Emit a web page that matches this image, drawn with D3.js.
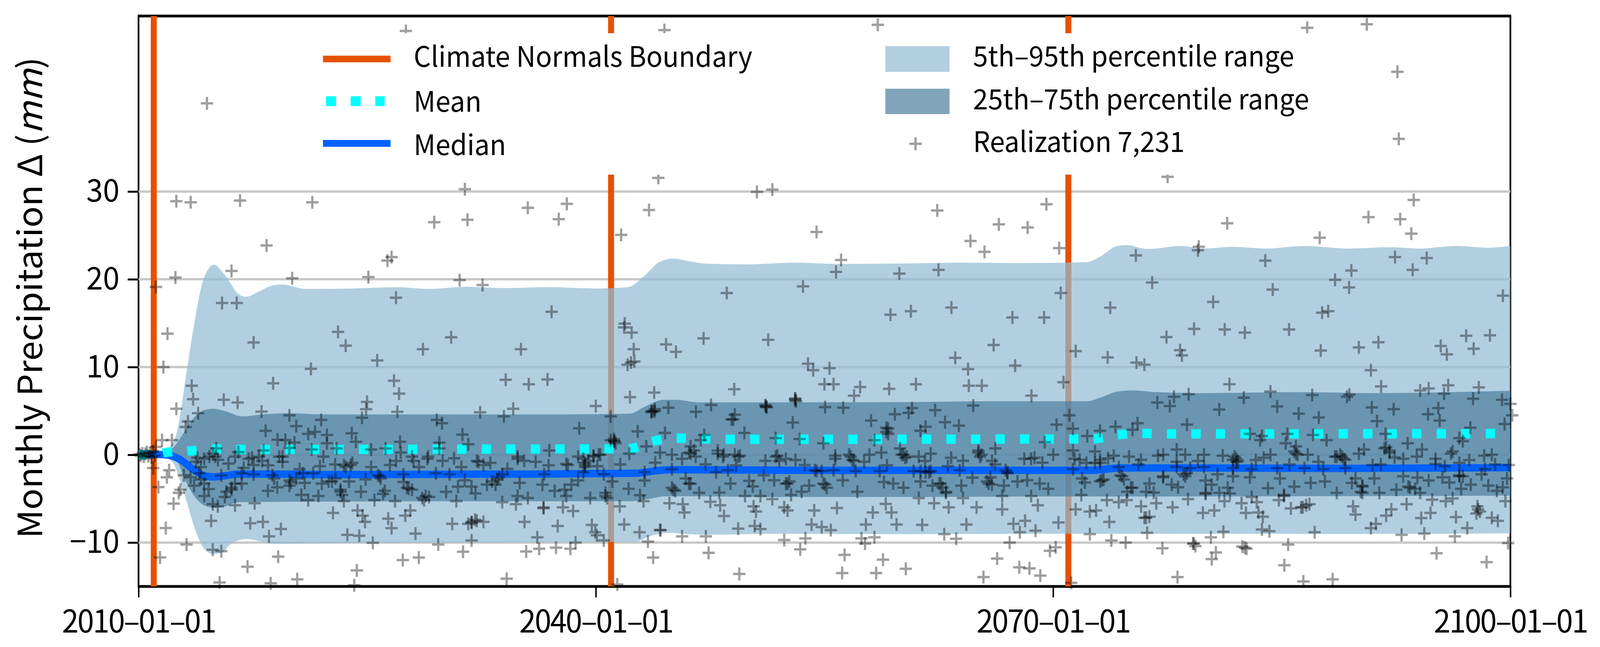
<!DOCTYPE html>
<html>
<head>
<meta charset="utf-8">
<script src="https://cdnjs.cloudflare.com/ajax/libs/d3/7.8.5/d3.min.js"></script>
<style>
  html, body { margin: 0; padding: 0; background: #fff; overflow: hidden; }
  text { font-family: "Noto Sans CJK JP", "Noto Sans", sans-serif; fill: #000; }
</style>
</head>
<body>
<div id="chart"></div>
<script>
"use strict";

var p95 = [[2010,0.05],[2011.3,0.1],[2011.9,0.6],[2012.5,2.5],[2013.2,10],[2013.65,14.9],[2014.3,20.2],[2014.94,21.65],[2015.66,20.5],[2016.55,18.35],[2017.04,18],[2017.9,18.6],[2018.8,19.3],[2019.45,19.4],[2021,18.9],[2024,18.95],[2027,19.1],[2029,18.9],[2031.5,19.15],[2034,19],[2037,19.1],[2040,18.95],[2042.1,19.1],[2043.1,20.26],[2044.2,22],[2045.1,22.36],[2046,22.1],[2047.1,21.8],[2050,21.7],[2053,21.9],[2056,21.75],[2060,21.8],[2064,21.9],[2068,21.85],[2072.2,21.95],[2073.1,22.6],[2074.2,23.8],[2074.8,23.9],[2076.2,23.45],[2078.4,23.8],[2079.8,23.5],[2081.8,23.7],[2084,23.5],[2086.5,23.8],[2089.4,23.5],[2092.1,23.65],[2094,23.5],[2096.5,23.8],[2098.5,23.6],[2100,23.8]];
var p75 = [[2010,0.03],[2011.3,0.05],[2012.2,0.7],[2013,2.6],[2013.65,4.27],[2014.3,5.1],[2014.9,5.25],[2015.7,4.97],[2016.8,4.38],[2018.3,4.63],[2019.9,4.74],[2022,4.6],[2030,4.6],[2036,4.6],[2042.2,4.69],[2043.3,5.56],[2044.4,6.27],[2045.3,6.27],[2046.7,5.98],[2050,5.98],[2060,6],[2066,6.1],[2072.2,6.1],[2073.1,6.5],[2074.2,7.2],[2075.3,7.34],[2076.6,7.16],[2079.8,7.03],[2086.5,7.14],[2091,7.03],[2100,7.3]];
var p25 = [[2010,-0.03],[2011.3,-0.05],[2012.4,-0.45],[2013.1,-3.05],[2013.75,-4.93],[2014.3,-5.75],[2015,-6.05],[2015.7,-5.87],[2016.55,-5.4],[2020,-5.35],[2030,-5.3],[2040,-5.3],[2042.2,-5.3],[2043.4,-5.05],[2044.6,-4.73],[2046,-4.73],[2051,-4.8],[2060,-4.8],[2070,-4.75],[2073,-4.75],[2076,-4.75],[2100,-4.65]];
var p5 = [[2010,-0.05],[2011.3,-0.1],[2012.2,-0.8],[2013,-4.45],[2013.75,-8.7],[2014.3,-10.7],[2014.9,-11.3],[2015.4,-11.2],[2016.1,-10.1],[2017.1,-9.6],[2018.1,-9.9],[2019,-10.15],[2021,-10.1],[2030,-10],[2042.6,-9.93],[2043.5,-9.3],[2044.9,-8.9],[2046,-9.05],[2047.6,-9.1],[2052,-9],[2060,-9.05],[2070,-9],[2080,-9],[2090,-9.02],[2100,-8.95]];
var medianLine = [[2010,0.05],[2011.2,0.05],[2012,-0.05],[2012.75,-0.57],[2013.65,-1.74],[2014.3,-2.38],[2014.9,-2.52],[2015.7,-2.38],[2016.55,-2.2],[2019,-2.2],[2023,-2.26],[2033,-2.2],[2036,-2.2],[2042.6,-2.1],[2044.4,-1.74],[2045.3,-1.7],[2054,-1.77],[2071,-1.77],[2072.6,-1.77],[2074.4,-1.5],[2080,-1.5],[2089,-1.55],[2100,-1.46]];
var meanLine = [[2010,0],[2011.2,0.05],[2011.9,0.3],[2013.4,0.45],[2015,0.68],[2016.5,0.62],[2023,0.62],[2034,0.66],[2040.6,0.68],[2042.3,0.73],[2043.8,1.56],[2045.3,1.9],[2048.5,1.77],[2070,1.8],[2072.6,1.83],[2074.2,2.27],[2075.8,2.45],[2077.4,2.38],[2100,2.42]];

var boundaryYears = [2011, 2041, 2071];
var xTickYears = [2010, 2040, 2070, 2100];
var xTickLabels = ["2010\u201301\u201301", "2040\u201301\u201301", "2070\u201301\u201301", "2100\u201301\u201301"];
var yTicks = [-10, 0, 10, 20, 30];

// one "+" per month in the picture, realization 7,231
var realization = [
// first year, all near zero
[2010.05,0.05],[2010.15,-0.1],[2010.25,0.15],[2010.35,-0.2],[2010.45,0.1],[2010.55,0.3],[2010.65,-0.15],[2010.75,0.2],[2010.85,-0.3],[2010.95,0.4],[2011.05,-0.1],[2011.15,0.9],
// top left
[2027.54,48.3],[2014.49,40.05],[2012.48,28.9],[2013.42,28.78],[2016.66,28.97],[2021.4,28.78],[2031.41,30.27],[2035.54,28.14],[2029.4,26.5],[2031.58,26.78],[2018.4,23.85],[2026.6,22.53],[2026.33,22.13],[2016.1,20.95],[2012.42,20.2],[2020.08,20.13],[2025.08,20.25],[2031.07,19.9],[2032.57,19.35],[2011.14,19.12],[2026.89,17.9],[2015.48,17.3],[2016.44,17.3],
// top middle
[2044.5,48.4],[2058.5,49.0],[2044.1,31.56],[2050.57,29.96],[2051.58,30.22],[2038.1,28.6],[2037.57,26.85],[2043.49,27.9],[2041.66,25.06],[2054.48,25.39],[2062.4,27.84],[2069.56,28.55],[2066.44,26.26],[2068.33,25.9],[2064.58,24.37],[2065.5,23.12],[2070.4,23.55],[2056.09,22.2],[2055.76,20.84],[2059.91,20.65],[2062.48,21.07],[2053.59,19.19],[2048.59,18.43],[2070.5,18.43],[2037.1,16.3],[2059.33,15.96],[2060.67,16.36],[2063.33,16.78],[2067.33,15.65],[2069.41,15.65],[2041.9,14.95],
// top right
[2086.67,48.65],[2090.58,49.07],[2092.59,43.65],[2092.68,36.0],[2077.51,31.68],[2093.66,29.04],[2090.69,27.08],[2092.77,26.85],[2093.5,25.2],[2081.42,26.38],[2087.49,24.73],[2075.43,22.72],[2079.56,23.71],[2079.5,23.31],[2083.92,22.13],[2092.43,22.53],[2094.51,22.42],[2093.59,21.07],[2089.57,21.0],[2088.5,19.94],[2076.5,19.64],[2089.42,19.07],[2084.41,18.83],[2099.51,18.13],[2080.5,17.42],[2073.75,16.76],[2087.65,16.2],[2088.05,16.36],
// left third, above the median
[2011.9,13.81],[2023.09,14.0],[2023.59,12.44],[2030.51,13.39],[2017.55,12.8],[2028.66,12.04],[2035.09,12.04],[2025.66,10.75],[2011.63,10.0],[2021.31,9.8],[2013.49,7.87],[2018.83,8.15],[2026.76,8.44],[2034.09,8.55],[2035.6,8.04],[2027.09,6.97],[2013.58,6.34],[2015.59,6.27],[2016.5,5.96],[2024.99,6.03],[2012.48,5.25],[2024.93,5.2],[2034.58,5.25],[2013.91,4.74],[2018.07,4.92],[2026.98,4.9],[2032.41,4.85],[2019.9,4.5],[2024.66,4.22],[2033.97,4.38],[2021.98,3.98],[2029.57,3.98],[2029.91,3.6],[2013.24,3.8],[2013.09,3.16],[2020.35,3.27],[2018.34,2.73],[2021.58,2.62],[2021.13,2.38],[2023.99,2.45],[2022.36,2.26],[2031.25,2.31],[2011.54,1.67],[2012.19,1.67],[2027.16,1.48],[2019.12,1.72],[2024.26,1.48],[2019.63,1.67],[2020.23,1.39],[2029.73,1.39],[2022.36,1.32],
[2015.1,0.73],[2016.55,0.3],[2018.2,0.49],[2019.9,0.78],[2021.35,0.61],[2026.2,0.73],[2023,0.73],[2025.26,0.61],[2027.2,0.26],[2031.63,1.2],[2029.73,0.73],[2013.87,-0.33],[2015.03,-0.21],[2016.33,-0.21],[2017.44,-0.33],[2018.11,-0.69],[2019.23,-0.21],[2019.45,-0.8],[2022.13,-0.21],[2023.92,-1.16],[2023.47,-1.16],[2025.26,-1.4],[2026.49,-1.16],[2028.05,-0.69],[2029,-0.21],[2029.95,-0.69],[2031.18,-1.4],[2032.3,-0.8],[2033.08,-0.92],[2034.87,-0.21],[2035.3,-0.69],
// left third, below the median
[2010.96,-1.51],[2012.01,-1.75],[2011.86,-2.57],[2011.3,-3.68],[2012.75,-3.98],[2012.64,-4.34],[2012.3,-5.56],[2012.97,-2.33],[2013.42,-2.57],[2013.98,-2.1],[2014.31,-3.28],[2013.64,-3.51],[2014.31,-4.69],[2014.87,-5.63],[2015.2,-5.87],[2015.66,-4.81],[2016.1,-3.98],[2016.33,-5.75],[2016.77,-3.28],[2017.62,-5.52],[2018.49,-4.1],[2018.9,-2.69],[2020.01,-3.16],[2019.9,-3.51],[2020.68,-4.57],[2020.57,-1.63],[2021.46,-2.1],[2021.8,-4.69],[2021.13,-5.16],[2022.02,-3.28],[2022.69,-3.04],[2023.25,-4.22],[2023.47,-5.28],[2023.81,-3.04],[2024.59,-4.22],[2025.48,-5.16],[2025.82,-2.45],[2026.16,-4.1],[2026.83,-5.28],[2027.72,-3.87],[2028.61,-4.93],[2029.06,-4.81],[2030.18,-4.22],[2030.85,-5.28],[2030.96,-3.63],[2031.85,-3.63],[2032.86,-3.39],[2033.53,-2.81],[2033.86,-5.4],[2034.76,-5.63],[2034.87,-4.69],[2035.54,-4.93],
[2015.43,-2.34],[2016.77,-2.1],[2017.55,-2.22],[2018.78,-2.33],[2020.79,-2.1],[2027.38,-2.22],[2029.51,-2.1],[2030.4,-2.22],[2033.86,-2.22],
[2022.76,-6.62],[2024.37,-6.34],[2024.7,-6.93],[2027.83,-6.34],[2027.5,-6.93],[2024.86,-7.64],[2026.38,-7.28],[2026.6,-8.35],[2014.76,-7.52],[2017.33,-7.8],[2018.16,-7.64],[2019.34,-8.46],[2018.56,-9.29],[2023.7,-9.12],[2024.48,-9.22],[2025.37,-10.04],[2028.17,-8.98],[2030.58,-7.87],[2031.85,-7.64],[2032.19,-7.52],[2032.63,-7.64],[2031.63,-7.87],[2031.85,-9.76],[2029.66,-10.23],[2035.32,-7.64],[2031.29,-11.05],[2035.43,-11.01],[2011.79,-8.34],[2013.15,-10.23],[2014.87,-10.82],[2015.43,-10.98],[2011.41,-11.69],[2019.16,-11.6],[2017.15,-12.75],[2027.34,-12.0],[2028.39,-11.71],[2024.32,-13.18],[2015.32,-14.54],[2018.67,-14.64],[2020.41,-14.19],[2024.15,-14.87],[2034.15,-14.12],
// left third, dark clusters
[2014.31,-0.45],[2014.65,-0.21],[2015.21,-0.57],[2014.87,0.14],[2013.76,-0.8],[2014.09,-1.39],[2014.09,-2.81],[2016.1,-3.75],[2015.77,-4.22],[2016.33,-3.28],[2017.22,-0.45],[2017.89,-0.21],[2017.55,-1.16],[2019.45,-0.21],[2019.9,-2.92],[2020.35,-2.69],[2022.47,-3.04],[2022.92,-2.69],[2023.25,-3.98],[2023.36,-4.57],[2024.03,-0.92],[2023.59,-1.39],[2025.71,-2.33],[2025.89,-2.69],[2026.04,-4.46],[2027.61,-3.75],[2027.94,-3.98],[2028.84,-4.69],[2028.73,-5.16],[2027.94,-0.21],[2028.95,-0.45],[2032.19,-0.69],[2032.63,-1.16],[2033.19,-3.04],[2033.42,-3.39],[2033.64,-2.57],[2034.87,-0.45],[2031.85,-7.75],[2032.08,-7.4],
[2014.6,-3.9],[2015.9,-1.0],[2016.9,-1.5],[2018.5,-1.2],[2019.1,-3.7],[2020.9,-3.2],[2021.9,-1.3],[2022.9,-1.1],[2024.9,-2.8],[2026.9,-0.7],[2027.4,-3.1],[2028.4,-1.4],[2030.7,-0.4],[2031.4,-2.9],[2032.1,-4.4],[2034.2,-1.6],[2035,-3.2],
// middle third, above the median
[2041.86,14.52],[2042.35,13.93],[2042.49,12.04],[2044.61,12.58],[2045.26,11.74],[2047.07,13.27],[2051.31,13.1],[2066.1,12.51],[2063.58,11.05],[2064.42,9.76],[2067.51,10.16],[2053.92,10.39],[2054.26,9.64],[2055.33,9.87],[2042.53,10.63],[2042.31,10.51],[2042.08,10.27],[2055,8.04],[2055.6,8.04],[2057.34,7.73],[2056.94,6.74],[2059.24,7.52],[2061,8.04],[2064.47,7.87],[2065.32,7.87],[2070.68,8.27],[2068.58,6.74],[2049.08,7.47],[2036.83,8.58],[2042.24,6.57],[2043.83,7.09],[2040.0,5.56],[2053.08,6.34],[2053.08,6.2],[2051.13,5.56],[2051.2,5.45],[2047.56,5.68],[2044.76,5.37],[2043.76,4.97],[2043.87,4.97],[2043.65,4.97],[2055.04,5.44],[2056.23,5.37],[2064.76,5.61],[2062.26,5.09],[2060.74,5.32],[2060.52,4.78],[2059.62,4.62],[2046.57,4.9],[2049.12,4.57],[2048.9,4.03],[2040.97,4.38],[2052.92,3.68],[2058.06,3.91],[2059.06,3.09],[2062.91,3.72],[2063.82,3.32],[2061.63,3.2],[2061.3,2.73],[2070.23,3.44],[2038.91,3.02],[2042.75,2.66],[2044.54,2.5],[2049.75,2.5],[2047.11,2.26],[2059.18,2.38],
[2041.23,1.55],[2041.19,1.8],[2040.97,1.67],[2046.89,1.67],[2051.8,1.91],[2053.37,1.79],[2054.93,1.32],[2058.28,1.67],[2059.96,0.73],[2046.22,0.96],[2048,0.49],[2043.31,0.96],[2036.95,0.49],[2042.2,0.14],[2066.21,0.73],[2065.1,0.49],[2069.45,1.44],[2061.97,0.14],
[2039.29,-0.92],[2038.84,-0.21],[2040.19,0.02],[2039.85,-0.21],[2038.17,-1.16],[2039.29,-1.39],[2044.21,0.26],[2044.99,0.02],[2045.66,-0.45],[2046.22,0.14],[2046.55,-0.21],[2048.4,0.02],[2049.12,0.02],[2049.46,-0.1],[2051.13,-0.69],[2051.91,-0.1],[2052.47,-0.45],[2053.7,-1.16],[2055.71,-0.1],[2056.61,0.02],[2056.94,-0.69],[2057.95,0.02],[2058.73,0.26],[2060.18,0.02],[2060.4,-0.21],[2061.19,-0.21],[2063.31,-0.33],[2064.09,-0.69],[2065.3,0.02],[2065.99,-0.69],[2068.11,-0.45],[2068.78,-0.33],[2070.01,0.02],
[2036.61,-2.22],[2039.18,-1.98],[2040.52,-2.22],[2043.2,-1.98],[2044.99,-1.63],[2047.89,-1.98],[2048.67,-1.75],[2051.02,-2.33],[2054.48,-1.86],[2055.6,-1.75],[2057.05,-1.86],[2058.62,-1.86],[2060.85,-1.86],[2061.86,-1.98],[2063.87,-1.75],[2067,-1.98],
// middle third, below the median
[2036.5,-3.4],[2037.95,-3.98],[2038.06,-4.69],[2039.63,-4.93],[2040.63,-4.34],[2040.74,-4.93],[2041.08,-3.04],[2038.84,-2.92],[2042.15,-3.87],[2043.2,-2.92],[2045.1,-3.98],[2046.22,-3.28],[2046.78,-4.34],[2048.83,-3.28],[2050.06,-2.97],[2049.79,-4.69],[2050.8,-4.69],[2051.58,-5.05],[2052.58,-3.28],[2052.81,-4.57],[2053.99,-3.51],[2054.93,-3.28],[2055.15,-3.75],[2057.16,-4.22],[2059.51,-3.28],[2060.18,-3.75],[2061.3,-3.04],[2062.08,-3.51],[2062.64,-3.28],[2062.97,-4.22],[2061.19,-4.93],[2063.98,-3.51],[2064.09,-4.93],[2065.77,-3.28],[2066.77,-3.51],[2067.66,-3.04],[2069.12,-3.28],[2069.68,-3.87],[2068.56,-4.69],[2066.66,-4.69],[2065.88,-2.57],
[2036.57,-5.99],[2037.84,-5.99],[2038.51,-6.41],[2041.57,-5.87],[2043.13,-5.28],[2044.83,-5.52],[2045.7,-5.63],[2045.81,-6.58],[2047.51,-5.35],[2048.16,-5.75],[2048.41,-6.98],[2050.35,-5.87],[2050.51,-6.46],[2052.36,-5.99],[2052.58,-6.34],[2054.33,-6.34],[2055.82,-6.06],[2058.17,-6.58],[2059.02,-5.59],[2059.4,-6.58],[2062.19,-5.52],[2063.15,-5.99],[2064.98,-5.99],[2066.66,-6.22],[2069,-5.75],
[2037.5,-8.11],[2039.74,-7.99],[2039.96,-8.82],[2040.07,-9.17],[2040.52,-9.76],[2036.16,-9.4],[2041.86,-7.94],[2042.87,-8.82],[2044.25,-8.58],[2049.34,-8.41],[2050.42,-8.11],[2050.8,-8.46],[2054.15,-7.94],[2054.82,-8.23],[2055.42,-8.58],[2057.72,-7.94],[2059.73,-7.94],[2061.41,-7.99],[2064.31,-7.94],[2067.4,-7.87],[2068.16,-7.52],[2067.82,-8.82],[2068.85,-8.65],[2070.35,-7.71],
[2036.28,-10.7],[2037.39,-10.58],[2038.33,-10.7],[2038.67,-10],[2043.42,-9.88],[2043.76,-11.71],[2045.66,-9.29],[2047.22,-9.29],[2047.4,-11.17],[2049.41,-13.58],[2052.36,-9.71],[2053.75,-9.52],[2053.41,-10.77],[2056.32,-11.41],[2057.43,-9.52],[2058.28,-9.4],[2057.66,-10.11],[2056.16,-13.48],[2058.84,-11.95],[2058.39,-13.48],[2060.34,-12.99],[2062.86,-9.05],[2063.64,-9.57],[2067.15,-10],[2066.33,-11.83],[2065.43,-13.93],[2067.78,-12.82],[2068.45,-12.94],[2069.16,-13.77],[2069.79,-10.94],[2070.17,-10.54],[2041.41,-14.78],
// middle third, dark clusters
[2036.05,-0.8],[2038.06,-1.04],[2039.18,-0.45],[2039.29,-1.16],[2039.51,-0.69],[2039.85,-0.1],[2040.3,0.02],[2041.19,1.55],[2041.3,1.32],[2036.57,-6.1],[2040.63,-4.69],[2043.87,5.2],[2043.65,4.85],[2051.13,5.68],[2051.2,5.44],[2053.08,6.43],[2053.14,6.1],[2049.01,4.03],[2059.06,2.62],[2059.18,2.97],[2046.11,0.26],[2046.44,0.49],[2048,0.14],[2048.34,-0.21],[2049.34,-0.21],[2051.8,-0.21],[2052.03,-0.69],[2055.71,-0.45],[2056.72,-0.21],[2056.83,-0.57],[2060.07,0.02],[2060.29,-0.33],[2065.1,0.26],[2065.21,-0.21],[2068.56,-0.45],[2045.21,-4.1],[2044.99,-3.75],[2046.11,-3.28],[2052.47,-3.28],[2052.7,-3.04],[2054.37,-1.75],[2054.82,-1.86],[2055.04,-3.39],[2061.3,-1.86],[2061.63,-1.98],[2061.97,-1.86],[2062.53,-3.28],[2062.75,-3.75],[2062.97,-4.34],[2065.65,-3.04],[2065.99,-3.39],[2067,-2.1],[2066.88,-1.75],[2044.21,-8.58],
[2036.9,-1.2],[2037.3,-4.1],[2038.4,-3.4],[2040.1,-1.3],[2041.6,-1.1],[2042.9,-4.6],[2043.9,-0.9],[2045.9,-2.7],[2047.2,-1.1],[2048.1,-4.3],[2049.2,-1.2],[2050.3,-3.6],[2051.7,-2.9],[2053.1,-0.6],[2053.5,-4.2],[2056.2,-2.9],[2057.6,-0.8],[2058.9,-3.1],[2059.1,-1.2],[2061.6,-0.7],[2063.1,-1.3],[2064.7,-2.6],[2066.2,-1.1],[2068.3,-2.9],[2069.3,-0.9],
// right third, above the median
[2079.25,14.35],[2081.26,14.28],[2082.58,13.93],[2085.48,14.28],[2077.44,13.41],[2097.1,13.57],[2098.66,13.62],[2078.33,11.92],[2078.45,11.33],[2071.48,11.81],[2073.58,11.1],[2087.56,11.88],[2090.06,12.23],[2091.34,12.82],[2095.43,12.4],[2095.83,11.45],[2097.59,12.09],[2075.47,10.51],[2075.99,10.27],[2090.85,9.64],[2081.57,8.04],[2091.52,7.8],[2094.08,7.33],[2094.64,7.56],[2095.92,7.92],[2097.93,7.68],[2084.26,7.21],[2078.89,6.9],[2077.93,6.62],[2076.84,5.96],[2077.66,5.56],[2082.51,6.5],[2087,6.81],[2089.44,6.86],[2089.28,6.62],[2095.65,6.97],[2097.55,6.39],[2099.45,6.27],[2100.0,5.8],[2090.91,5.4],[2092.34,5.2],[2095.27,5.32],[2084.7,5.51],[2080.9,5.16],[2086.11,4.69],[2087.43,4.26],[2094.6,4.62],[2095.36,3.91],[2100.12,4.5],[2091.25,3.84],[2071.07,4.5],[2075.54,3.6],[2078.78,3.44],[2099.62,3.51],[2097.37,3.09],[2074.09,3.2],[2075.21,2.85],[2073.08,2.73],[2071.3,2.97],
[2072.24,2.14],[2083.7,2.14],[2082.91,2.38],[2085.37,2.38],[2087.05,2.26],[2091.81,2.38],[2087.94,1.67],[2096.65,1.91],[2085.26,1.32],[2096.88,1.55],[2083.58,1.67],[2093.26,1.32],[2085.93,0.96],[2090.4,0.61],[2094.2,0.61],[2096.21,0.38],[2091.74,0.73],[2092.07,0.26],[2078.11,0.61],
[2071.3,0.49],[2072.75,0.38],[2073.98,-0.1],[2074.98,-0.21],[2075.77,-0.57],[2076.88,-0.1],[2077.22,0.02],[2078.67,0.02],[2079.9,0.02],[2081.13,-0.1],[2082.02,-0.45],[2082.02,-0.8],[2083.81,-0.33],[2084.26,0.02],[2085.93,0.14],[2086.71,0.02],[2088.5,-0.21],[2088.95,-0.21],[2089.17,-0.57],[2090.06,0.14],[2092.97,-0.45],[2093.86,-0.21],[2095.09,-0.45],[2096.1,0.14],[2098.28,-0.1],[2098.78,0.02],[2071.74,-0.57],[2072.19,-0.92],[2073.08,-0.92],[2078.11,-0.8],
[2071.3,-1.63],[2074.31,-1.39],[2078.11,-1.39],[2079,-1.51],[2079.9,-1.39],[2081.8,-1.51],[2083.03,-1.63],[2084.7,-1.51],[2086.49,-1.51],[2087.72,-1.63],[2089.17,-1.51],[2090.96,-1.16],[2095.09,-1.04],[2096.65,-0.92],[2098.33,-1.63],[2099.89,-1.16],
// right third, below the median
[2073.2,-2.92],[2074.54,-2.45],[2077.22,-2.45],[2078.67,-2.45],[2080,-2.92],[2080.79,-2.22],[2081.8,-2.45],[2082.91,-2.57],[2084.88,-2.69],[2087.83,-3.04],[2089.84,-2.69],[2091.07,-2.69],[2092.97,-2.45],[2094.64,-2.92],[2095.54,-2.57],[2096.65,-2.45],[2098.11,-2.22],[2099.78,-2.69],
[2072.08,-3.16],[2075.21,-3.75],[2076.32,-3.28],[2077.78,-3.39],[2081.46,-3.75],[2085.82,-3.63],[2090.29,-3.51],[2093.41,-3.75],[2096,-3.16],[2096.77,-3.87],[2098.55,-3.51],[2099.11,-4.1],[2071.85,-4.57],[2074.87,-4.22],[2076.1,-4.22],[2080,-4.46],[2080.9,-4.34],[2085.15,-4.69],[2088.61,-4.34],[2090.29,-4.34],[2091.4,-4.34],[2092.52,-3.98],[2094.08,-4.34],
[2073.53,-5.16],[2074.31,-5.4],[2074.83,-5.16],[2076.77,-5.52],[2078.85,-5.05],[2081.24,-5.28],[2082.36,-5.52],[2083.03,-4.81],[2083.36,-5.4],[2084.81,-5.16],[2086.82,-5.63],[2089.68,-5.87],[2093.19,-5.63],[2094.87,-5.12],[2095.76,-5.28],[2096.21,-4.97],[2099.67,-5.28],
[2071.48,-6.22],[2072.41,-6.46],[2072.82,-6.34],[2075.77,-5.87],[2077.84,-5.99],[2079.83,-6.62],[2080.57,-6.34],[2082.65,-6.62],[2083.47,-6.58],[2085.6,-6.11],[2086.38,-5.99],[2089.84,-6.81],[2092.19,-6.22],[2091.85,-6.93],[2094.76,-6.62],[2094.15,-7.21],[2097.84,-5.87],[2097.77,-6.69],[2096.43,-7.1],[2098.78,-7.17],[2099.18,-7.52],[2075.99,-7.17],[2076.32,-7.05],[2083.76,-7.05],[2073.69,-7.64],[2091.18,-7.87],[2090.85,-8.35],[2097.17,-8.35],[2083.7,-8.51],[2084.19,-8.7],[2072.41,-9.05],[2076.17,-8.89],[2081.17,-8.77],[2087.16,-8.82],
[2073.82,-9.76],[2074.76,-10],[2080.35,-9.4],[2079.18,-10.11],[2079.34,-10.4],[2077.17,-10.65],[2080.68,-11.13],[2080.41,-11.88],[2082.42,-10.46],[2082.69,-10.7],[2085.42,-10.23],[2092.86,-9.12],[2094.35,-8.98],[2096.36,-9.29],[2099.85,-10.06],[2095.16,-11.22],[2098.44,-12.23],[2085.17,-12.59],[2078.16,-13.93],[2086.42,-14.43],[2088.34,-14.19],[2071.19,-14.59],
// right third, dark clusters
[2081.91,-0.21],[2082.13,-0.69],[2081.8,-0.57],[2088.83,0],[2089.06,-0.45],[2088.61,-0.21],[2091.85,0.85],[2092.07,0.49],[2085.82,0.38],[2086.04,0.02],[2074.42,-2.34],[2074.65,-2.81],[2073.08,-3.04],[2073.31,-2.81],[2075.1,-3.75],[2077.22,-2.57],[2078.56,-2.22],[2090.29,-3.63],[2090.18,-4.22],[2093.3,-3.63],[2093.75,-3.87],[2085.15,-4.57],[2096.65,-2.33],[2096.88,-2.45],[2097.88,-6.22],[2098,-6.46],[2076.1,-7.17],[2079.23,-10.11],[2082.58,-10.58],[2086.6,-5.75],[2086.27,-5.99],[2080.01,-4.34],[2071.41,-0.45],[2072.75,-0.92],[2073.08,-0.57],[2078.78,-2.1],
[2071.9,-2.7],[2073.6,-0.4],[2075.6,-1.1],[2076.6,-4.3],[2078.2,-3.7],[2079.5,-0.7],[2080.4,-3.4],[2081.6,-4.4],[2083.3,-0.6],[2084.1,-3.8],[2085.5,-1.1],[2086.9,-3.2],[2087.4,-0.8],[2089.6,-3.2],[2091.5,-1.1],[2092.4,-0.3],[2093.9,-2.6],[2095.7,-1.3],[2097.3,-0.6],[2097.4,-3.4],[2099,-1.1],[2099.5,-3.7]
];

// legend rows: left column lines, right column patches
var legendLines = ["Climate Normals Boundary", "Mean", "Median"];
var legendPatches = ["5th\u201395th percentile range", "25th\u201375th percentile range", "Realization 7,231"];

// colours
var orange = "#e65100", cyan = "#00ffff", blue = "#0061ff";
var lightFill = "#91bad4", darkFill = "#4c7e9e";

// == BOILERPLATE ==
// the window can be narrower than asked, the viewBox keeps the whole figure in it
var margin = { top: 41, left: 371 },
    width = 3674,
    height = 1460;

var svg = d3.select("#chart")
            .append("svg")
            .attr("viewBox", "0 0 4285 1656")
            .attr("preserveAspectRatio", "none")
            .style("width", "100vw")
            .style("height", "100vh")
            .style("display", "block");

var g = svg.append("g")
           .attr("transform", "translate(" + margin.left + "," + margin.top + ")");

var x = d3.scaleLinear().domain([2010, 2100]).range([0, width]);
var y = d3.scaleLinear().domain([50, -15]).range([0, height]);

// frame first, the bands cover it
g.append("line").attr("x1", -2).attr("x2", width + 2).attr("y1", 0).attr("y2", 0).attr("stroke", "#000").attr("stroke-width", 7);
g.append("line").attr("x1", -2).attr("x2", width + 2).attr("y1", height).attr("y2", height).attr("stroke", "#000").attr("stroke-width", 7);
g.append("line").attr("x1", 0).attr("x2", 0).attr("y1", 0).attr("y2", height).attr("stroke", "#000").attr("stroke-width", 4.5);
g.append("line").attr("x1", width).attr("x2", width).attr("y1", 0).attr("y2", height).attr("stroke", "#000").attr("stroke-width", 4.5);

// axes
var xAxis = d3.axisBottom(x)
  .tickValues(xTickYears)
  .tickSize(28)
  .tickPadding(33)
  .tickFormat(function(d, i) { return xTickLabels[i]; });
var yAxis = d3.axisLeft(y)
  .tickValues(yTicks)
  .tickSize(29)
  .tickPadding(22)
  .tickFormat(function(d) { return d < 0 ? "\u2212" + Math.abs(d) : d; });

var gx = g.append("g").attr("transform", "translate(0," + height + ")").call(xAxis);
var gy = g.append("g").call(yAxis);
gx.select(".domain").remove();
gy.select(".domain").remove();
gx.selectAll("line").attr("stroke", "#000").attr("stroke-width", 4);
gy.selectAll("line").attr("stroke", "#000").attr("stroke-width", 5);
gx.selectAll("text").style("font-size", "80px").style("letter-spacing", "-3px");
gy.selectAll("text").style("font-size", "80px");

// grid
g.selectAll(".grid")
  .data(yTicks)
  .enter()
  .append("line")
  .attr("class", "grid")
  .attr("x1", 0)
  .attr("x2", width)
  .attr("y1", function(d) { return y(d); })
  .attr("y2", function(d) { return y(d); })
  .attr("stroke", "#c8c8c8")
  .attr("stroke-width", 6);

// climate normals boundaries
g.selectAll(".boundary")
  .data(boundaryYears)
  .enter()
  .append("line")
  .attr("class", "boundary")
  .attr("x1", function(d) { return x(d); })
  .attr("x2", function(d) { return x(d); })
  .attr("y1", 0)
  .attr("y2", height)
  .attr("stroke", orange)
  .attr("stroke-width", 16);

var lineGen = d3.line()
  .x(function(d) { return x(d[0]); })
  .y(function(d) { return y(d[1]); })
  .curve(d3.curveMonotoneX);

// percentile bands, each edge read on its own knots
function bandPath(upper, lower) {
  return lineGen(upper) + "L" + lineGen(lower.slice().reverse()).slice(1) + "Z";
}
g.append("path").attr("d", bandPath(p95, p5)).attr("fill", lightFill).attr("fill-opacity", 0.7);
g.append("path").attr("d", bandPath(p75, p25)).attr("fill", darkFill).attr("fill-opacity", 0.7);

g.append("path").attr("d", lineGen(medianLine)).attr("fill", "none").attr("stroke", blue).attr("stroke-width", 19);
g.append("path").attr("d", lineGen(meanLine)).attr("fill", "none").attr("stroke", cyan).attr("stroke-width", 24).attr("stroke-dasharray", "25,40.7");

// realization markers
function plus(sel) {
  sel.attr("d", "M-16.5,0H16.5M0,-16.5V16.5")
     .attr("fill", "none")
     .attr("stroke", "#000")
     .attr("stroke-opacity", 0.38)
     .attr("stroke-width", 6);
}
g.selectAll(".mark")
  .data(realization)
  .enter()
  .append("path")
  .attr("class", "mark")
  .attr("transform", function(d) { return "translate(" + x(d[0]) + "," + y(d[1]) + ")"; })
  .call(plus);

// y label
svg.append("text")
  .attr("transform", "translate(113,762) rotate(-90)")
  .attr("text-anchor", "middle")
  .style("font-size", "90px")
  .html('Monthly Precipitation \u0394 (<tspan font-style="italic">mm</tspan>)');

// legend
var legend = svg.append("g");
legend.append("rect").attr("x", 840).attr("y", 85).attr("width", 2690).attr("height", 362).attr("fill", "#fff");

var rowY = [151, 259, 367];
var leftBase = [171, 286, 397];
var rightBase = [170, 280, 389];
legend.append("line").attr("x1", 865).attr("x2", 1046).attr("y1", rowY[0]).attr("y2", rowY[0]).attr("stroke", orange).attr("stroke-width", 17);
legend.append("line").attr("x1", 873).attr("x2", 1030).attr("y1", rowY[1]).attr("y2", rowY[1]).attr("stroke", cyan).attr("stroke-width", 25).attr("stroke-dasharray", "27,39");
legend.append("line").attr("x1", 865).attr("x2", 1046).attr("y1", rowY[2]).attr("y2", rowY[2]).attr("stroke", blue).attr("stroke-width", 17.5);

legend.append("rect").attr("x", 2371).attr("y", 118).attr("width", 172).attr("height", 66).attr("fill", lightFill).attr("fill-opacity", 0.7);
legend.append("rect").attr("x", 2371).attr("y", 227).attr("width", 172).attr("height", 65).attr("fill", darkFill).attr("fill-opacity", 0.7);
legend.append("path").attr("transform", "translate(2452,368)").call(plus);

legend.selectAll(".ll")
  .data(legendLines)
  .enter()
  .append("text")
  .attr("class", "ll")
  .attr("x", 1108)
  .attr("y", function(d, i) { return leftBase[i]; })
  .style("font-size", "72px")
  .text(function(d) { return d; });
legend.selectAll(".lp")
  .data(legendPatches)
  .enter()
  .append("text")
  .attr("class", "lp")
  .attr("x", 2606)
  .attr("y", function(d, i) { return rightBase[i]; })
  .style("font-size", "72px")
  .text(function(d) { return d; });
</script>
</body>
</html>
